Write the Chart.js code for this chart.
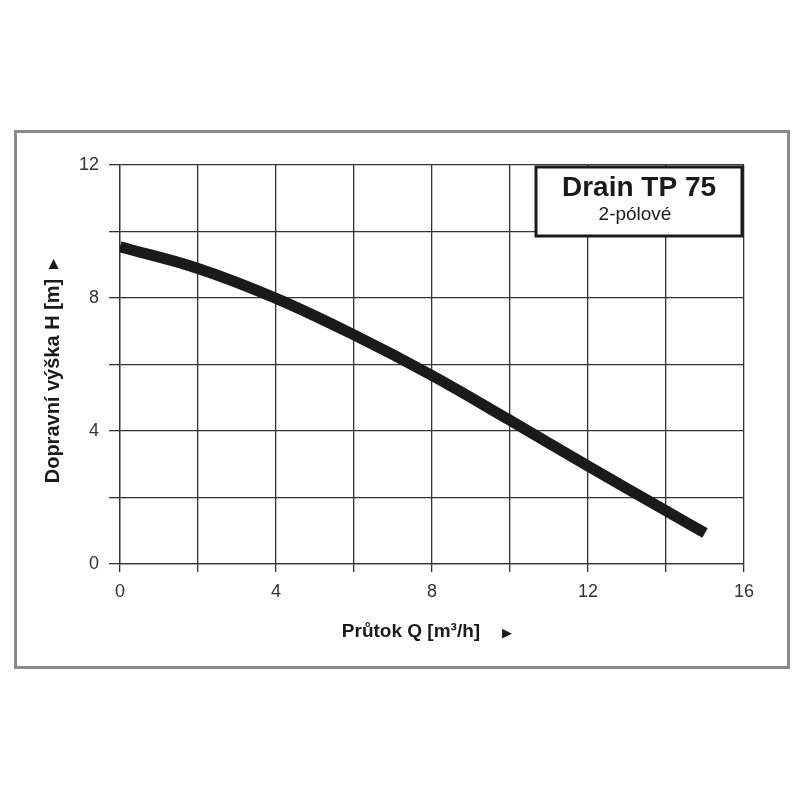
<!DOCTYPE html>
<html>
<head>
<meta charset="utf-8">
<script src="https://cdn.jsdelivr.net/npm/chart.js@4"></script>
<style>
html,body{margin:0;padding:0;background:#fff;}
#wrap{position:absolute;left:0;top:0;width:800px;height:800px;}
</style>
</head>
<body>
<div id="wrap"><canvas id="c" width="800" height="800"></canvas></div>
<script>
// Data
const flowQ = [0, 2, 4, 6, 8, 10, 12, 14, 15];          // m3/h
const headH = [9.54, 8.89, 7.99, 6.89, 5.67, 4.32, 2.95, 1.6, 0.93]; // m
const xTickLabels = [0, 4, 8, 12, 16];
const yTickLabels = [0, 4, 8, 12];
const chartTitle = 'Drain TP 75';
const chartSubtitle = '2-pólové';
const xTitle = 'Průtok Q [m³/h]';
const yTitle = 'Dopravní výška H [m]';

const FONT = '"Liberation Sans", Arial, Helvetica, sans-serif';

const decor = {
  id: 'decor',
  beforeDraw(chart) {
    const ctx = chart.ctx;
    ctx.save();
    ctx.fillStyle = '#fff';
    ctx.fillRect(0, 0, 800, 800);
    ctx.restore();
  },
  afterDraw(chart) {
    const ctx = chart.ctx;
    ctx.save();
    // outer frame
    ctx.strokeStyle = '#8a8a8a';
    ctx.lineWidth = 3;
    ctx.strokeRect(15.5, 131.5, 773, 536);
    // title box
    ctx.fillStyle = '#fff';
    ctx.fillRect(535, 166, 208, 71);
    ctx.strokeStyle = '#1a1a1a';
    ctx.lineWidth = 3;
    ctx.strokeRect(536, 167, 206, 69);
    ctx.fillStyle = '#1a1a1a';
    ctx.textAlign = 'center';
    ctx.textBaseline = 'middle';
    ctx.font = 'bold 28px ' + FONT;
    ctx.fillText(chartTitle, 639, 188);
    ctx.font = '19px ' + FONT;
    ctx.fillText(chartSubtitle, 635, 215);
    // x title
    ctx.font = 'bold 19px ' + FONT;
    ctx.fillText(xTitle, 411, 632);
    ctx.font = '13px "DejaVu Sans", sans-serif';
    ctx.fillText('▶', 507, 634);
    // y title
    ctx.translate(53, 0);
    ctx.rotate(-Math.PI / 2);
    ctx.font = 'bold 20px ' + FONT;
    ctx.fillText(yTitle, -381, 0);
    ctx.font = '13px "DejaVu Sans", sans-serif';
    ctx.fillText('▶', -264, 1);
    ctx.restore();
  }
};

new Chart(document.getElementById('c'), {
  type: 'line',
  data: {
    datasets: [{
      data: flowQ.map((q, i) => ({ x: q, y: headH[i] })),
      borderColor: '#1a1a1a',
      borderWidth: 11,
      borderCapStyle: 'butt',
      pointRadius: 0,
      tension: 0.4,
      fill: false
    }]
  },
  options: {
    responsive: false,
    animation: false,
    layout: { padding: { left: 0, top: 165, right: 56, bottom: 0 } },
    plugins: { legend: { display: false }, tooltip: { enabled: false } },
    scales: {
      x: {
        type: 'linear', min: 0, max: 16,
        afterFit(s) { s.height = 236; },
        afterBuildTicks(s) { s.ticks = [0,2,4,6,8,10,12,14,16].map(v => ({ value: v })); },
        ticks: {
          autoSkip: false, maxRotation: 0,
          callback: v => xTickLabels.includes(v) ? String(v) : '',
          color: '#333', font: { family: FONT, size: 18 }, padding: 9
        },
        grid: { color: '#333', lineWidth: 1.3, tickLength: 8 },
        border: { color: '#333', width: 1.3 }
      },
      y: {
        type: 'linear', min: 0, max: 12,
        afterFit(s) { s.width = 120; },
        afterBuildTicks(s) { s.ticks = [0,2,4,6,8,10,12].map(v => ({ value: v })); },
        ticks: {
          autoSkip: false,
          callback: v => yTickLabels.includes(v) ? String(v) : '',
          color: '#333', font: { family: FONT, size: 18 }, padding: 10
        },
        grid: { color: '#333', lineWidth: 1.3, tickLength: 11 },
        border: { color: '#333', width: 1.3 }
      }
    }
  },
  plugins: [decor]
});
</script>
</body>
</html>
